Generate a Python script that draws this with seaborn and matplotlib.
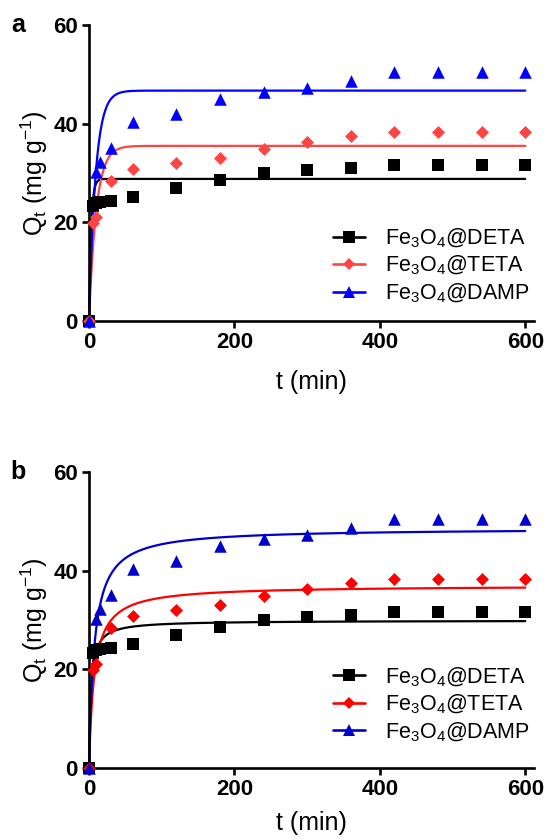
import numpy as np
import pandas as pd
import matplotlib
matplotlib.use("Agg")
import matplotlib.pyplot as plt
from matplotlib.lines import Line2D
import seaborn as sns

# Sampling times (min)
time_min = [0, 5, 10, 15, 30, 60, 120, 180, 240, 300, 360, 420, 480, 540, 600]

# Measured adsorption capacity Qt (mg/g)
q_deta = [0, 23.4, 23.9, 24.2, 24.4, 25.1, 26.9, 28.5, 29.9, 30.6, 31.0, 31.6, 31.6, 31.6, 31.6]
q_teta = [0, 19.8, 21.1, np.nan, 28.3, 30.8, 32.0, 33.1, 34.8, 36.3, 37.5, 38.4, 38.4, 38.4, 38.4]
q_damp = [0, np.nan, 30.3, 32.3, 35.0, 40.4, 42.0, 45.1, 46.4, 47.2, 48.6, 50.4, 50.4, 50.4, 50.4]

series_names = ["Fe$_3$O$_4$@DETA", "Fe$_3$O$_4$@TETA", "Fe$_3$O$_4$@DAMP"]
series_markers = ["s", "D", "^"]
series_msize = [8.8, 6.6, 9.0]

# Kinetic model parameters: qe (mg/g) and rate constant
pfo_qe = [28.8, 35.5, 46.7]
pfo_k = [0.35, 0.10, 0.11]
pso_qe = [29.9, 37.0, 48.6]
pso_k = [0.0128, 0.00378, 0.00288]

colors_a = ["#000000", "#ff4444", "#0000ff"]
colors_b = ["#000000", "#ff0000", "#0000cc"]

sns.set_style("ticks")
plt.rcParams["font.family"] = ["Liberation Sans", "DejaVu Sans"]
plt.rcParams["mathtext.fontset"] = "custom"
plt.rcParams["mathtext.rm"] = "Liberation Sans"
plt.rcParams["mathtext.it"] = "Liberation Sans:italic"
plt.rcParams["mathtext.bf"] = "Liberation Sans:bold"
plt.rcParams["text.color"] = "black"
plt.rcParams["axes.labelcolor"] = "black"
plt.rcParams["xtick.color"] = "black"
plt.rcParams["ytick.color"] = "black"
plt.rcParams["axes.edgecolor"] = "black"

W, H = 546, 839
fig = plt.figure(figsize=(W / 100, H / 100), dpi=100)


def px_axes(left, top, right, bottom):
    return fig.add_axes([left / W, 1 - bottom / H, (right - left) / W, (bottom - top) / H])


ax_a = px_axes(89, 25, 534, 321)
ax_b = px_axes(89, 472, 534, 768)

t_model = np.linspace(0, 600, 1201)
data = pd.DataFrame({"t": time_min, "DETA": q_deta, "TETA": q_teta, "DAMP": q_damp})
keys = ["DETA", "TETA", "DAMP"]


def pfo(t, qe, k):
    return qe * (1 - np.exp(-k * t))


def pso(t, qe, k):
    return qe * qe * k * t / (1 + qe * k * t)


def draw_panel(ax, model, qes, ks, colors, letter, legend_y, xlabel_pad):
    for key, qe, k, col, mk, ms in zip(keys, qes, ks, colors, series_markers, series_msize):
        sns.lineplot(x=t_model, y=model(t_model, qe, k), ax=ax, color=col, lw=1.6,
                     zorder=2, clip_on=False)
        sns.scatterplot(data=data, x="t", y=key, ax=ax, color=col, marker=mk,
                        s=ms ** 2, linewidth=0, zorder=3, clip_on=False)
    ax.set_xlim(0, 612)
    ax.set_ylim(0, 60)
    ax.set_xticks([0, 200, 400, 600])
    ax.set_yticks([0, 20, 40, 60])
    sns.despine(ax=ax)
    for sp in ["left", "bottom"]:
        ax.spines[sp].set_linewidth(1.9)
        ax.spines[sp].set_color("black")
    ax.tick_params(axis="both", direction="out", length=5, width=1.9, pad=3,
                   labelsize=16, colors="black")
    for lab in ax.get_xticklabels() + ax.get_yticklabels():
        lab.set_fontweight("bold")
    ax.set_xlabel("t (min)", fontsize=18, labelpad=xlabel_pad)
    ax.set_ylabel(r"Q$_\mathrm{t}$ (mg g$^{-1}$)", fontsize=18, labelpad=2)
    handles = [Line2D([0], [0], color=c, lw=1.9, marker=m, markersize=s, markeredgewidth=0)
               for c, m, s in zip(colors, series_markers, series_msize)]
    ax.legend(handles, series_names, loc="lower right", bbox_to_anchor=(1.0, legend_y),
              frameon=False, fontsize=15.5, handlelength=1.5, handletextpad=0.9,
              labelspacing=0.2, borderaxespad=0.0, borderpad=0.2)
    ax.text(-0.16, 1.0, letter, transform=ax.transAxes, fontsize=18,
            fontweight="bold", ha="center", va="center")


draw_panel(ax_a, pfo, pfo_qe, pfo_k, colors_a, "a", 0.04, 12)
draw_panel(ax_b, pso, pso_qe, pso_k, colors_b, "b", 0.068, 8)

fig.savefig("out.png", dpi=100)
